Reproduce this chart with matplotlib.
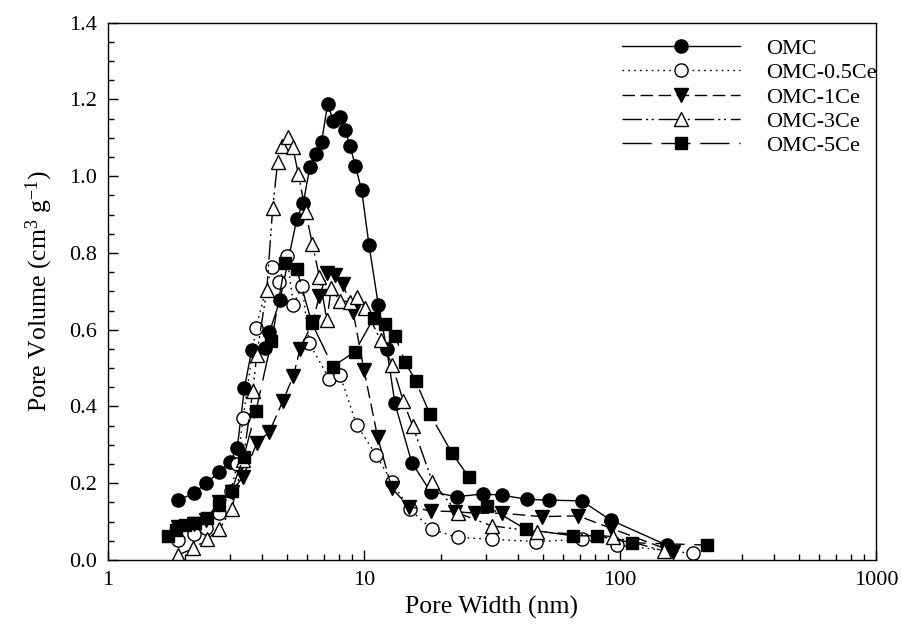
import matplotlib
matplotlib.use('Agg')
import matplotlib.pyplot as plt
from matplotlib.ticker import FixedLocator, LogLocator, NullFormatter, MultipleLocator, FormatStrFormatter, FixedFormatter

plt.rcParams['font.family'] = ['Liberation Serif']
plt.rcParams['mathtext.fontset'] = 'custom'
plt.rcParams['mathtext.rm'] = 'Liberation Serif'
plt.rcParams['mathtext.it'] = 'Liberation Serif:italic'
plt.rcParams['lines.scale_dashes'] = False

# ---------------- data ----------------
omc_x = [1.88, 2.17, 2.41, 2.71, 3.00, 3.20, 3.41, 3.64, 4.12, 4.27, 4.70, 5.46, 5.79, 6.15, 6.48,
         6.83, 7.21, 7.59, 8.06, 8.43, 8.82, 9.25, 9.79, 10.46, 11.37, 12.27, 13.21, 15.36, 18.2,
         23.0, 29.1, 34.5, 43.5, 52.8, 70.8, 92.0, 152]
omc_y = [0.156, 0.174, 0.200, 0.228, 0.256, 0.293, 0.447, 0.547, 0.553, 0.593, 0.678, 0.888, 0.930,
         1.025, 1.057, 1.090, 1.188, 1.144, 1.153, 1.121, 1.079, 1.027, 0.964, 0.821, 0.665, 0.550,
         0.408, 0.254, 0.178, 0.165, 0.172, 0.169, 0.158, 0.156, 0.154, 0.104, 0.039]

c05_x = [1.88, 2.17, 2.41, 2.71, 3.02, 3.20, 3.37, 3.78, 4.36, 4.67, 4.99, 5.30, 5.73, 6.11, 7.32,
         8.06, 9.36, 11.14, 12.83, 15.1, 18.4, 23.2, 31.5, 46.9, 70.8, 97.1, 192]
c05_y = [0.052, 0.069, 0.083, 0.122, 0.180, 0.250, 0.369, 0.604, 0.763, 0.724, 0.792, 0.665, 0.715,
         0.565, 0.472, 0.482, 0.352, 0.274, 0.204, 0.132, 0.080, 0.059, 0.054, 0.048, 0.054, 0.039,
         0.017]

c1_x = [1.88, 2.17, 2.41, 2.72, 3.04, 3.37, 3.81, 4.27, 4.81, 5.30, 5.62, 6.31, 6.70, 7.19, 7.70,
        8.27, 9.07, 10.0, 11.3, 12.83, 15.0, 18.2, 22.7, 27.1, 34.5, 49.4, 68.7, 92.0, 161]
c1_y = [0.085, 0.095, 0.105, 0.152, 0.178, 0.217, 0.304, 0.334, 0.413, 0.480, 0.549, 0.621, 0.689,
        0.747, 0.743, 0.719, 0.646, 0.495, 0.321, 0.187, 0.139, 0.128, 0.126, 0.122, 0.122, 0.113,
        0.115, 0.083, 0.022]

c3_x = [1.88, 2.15, 2.44, 2.72, 3.04, 3.37, 3.68, 3.81, 4.17, 4.40, 4.60, 4.77, 5.03, 5.27, 5.54,
        5.92, 6.28, 6.70, 7.16, 7.45, 8.06, 8.82, 9.36, 10.1, 11.6, 12.9, 14.25, 15.5, 18.5, 23.2,
        31.5, 47.3, 94.2, 148.6]
c3_y = [0.013, 0.030, 0.054, 0.080, 0.132, 0.260, 0.441, 0.534, 0.704, 0.917, 1.038, 1.080, 1.103,
        1.075, 1.006, 0.906, 0.824, 0.737, 0.625, 0.708, 0.675, 0.673, 0.685, 0.656, 0.573, 0.508,
        0.413, 0.349, 0.204, 0.123, 0.089, 0.074, 0.061, 0.023]

c5_x = [1.72, 1.85, 2.00, 2.19, 2.44, 2.72, 3.04, 3.39, 3.78, 4.35, 4.92, 5.46, 6.25, 7.55, 9.22,
        10.9, 12.1, 13.2, 14.5, 15.9, 18.1, 22.0, 25.6, 30.1, 42.9, 65.7, 81.1, 111, 218]
c5_y = [0.063, 0.078, 0.090, 0.097, 0.109, 0.143, 0.181, 0.269, 0.387, 0.570, 0.773, 0.758, 0.618,
        0.504, 0.543, 0.630, 0.614, 0.584, 0.515, 0.467, 0.380, 0.280, 0.217, 0.141, 0.080, 0.063,
        0.063, 0.045, 0.039]

labels = ['OMC', 'OMC-0.5Ce', 'OMC-1Ce', 'OMC-3Ce', 'OMC-5Ce']
x_ticks = [1, 10, 100, 1000]
x_tick_labels = ['1', '10', '100', '1000']

# ---------------- figure ----------------
fig = plt.figure(figsize=(9.03, 6.30), dpi=100)
ax = fig.add_axes([108 / 903, 1 - 560 / 630, (876 - 108) / 903, (560 - 22.7) / 630])

ms = 9.5
lw = 1.0
ax.plot(omc_x, omc_y, color='black', lw=lw, linestyle='-', marker='o', ms=ms,
        mfc='black', mec='black', label=labels[0])
ax.plot(c05_x, c05_y, color='black', lw=lw, linestyle=(0, (1.2, 3.0)), marker='o', ms=ms,
        mfc='white', mec='black', mew=1.0, label=labels[1])
ax.plot(c1_x, c1_y, color='black', lw=lw, linestyle=(0, (9.0, 4.0)), marker='v', ms=ms,
        mfc='black', mec='black', label=labels[2])
ax.plot(c3_x, c3_y, color='black', lw=lw, linestyle=(0, (14, 3, 1.5, 2.5, 1.5, 3.5)), marker='^',
        ms=ms, mfc='white', mec='black', mew=1.0, label=labels[3])
ax.plot(c5_x, c5_y, color='black', lw=lw, linestyle=(0, (21, 7)), marker='s', ms=ms - 1,
        mfc='black', mec='black', label=labels[4])

ax.set_xscale('log')
ax.set_xlim(1, 1000)
ax.set_ylim(0, 1.4)
ax.xaxis.set_major_locator(FixedLocator(x_ticks))
ax.xaxis.set_major_formatter(FixedFormatter(x_tick_labels))
ax.xaxis.set_minor_locator(LogLocator(base=10, subs=range(2, 10)))
ax.xaxis.set_minor_formatter(NullFormatter())
ax.yaxis.set_major_locator(MultipleLocator(0.2))
ax.yaxis.set_minor_locator(MultipleLocator(0.05))
ax.yaxis.set_major_formatter(FormatStrFormatter('%.1f'))

ax.tick_params(which='both', direction='in', top=False, right=False, labelsize=16, width=1.0)
ax.tick_params(which='major', length=7, pad=8)
ax.tick_params(which='minor', length=4)
for s in ax.spines.values():
    s.set_linewidth(1.0)

ax.set_xlabel('Pore Width (nm)', fontsize=18.5, labelpad=4)
ax.set_ylabel('Pore Volume (cm$^{3}$ g$^{-1}$)', fontsize=18.5, labelpad=10)

leg = ax.legend(loc='upper left', bbox_to_anchor=(0.669, 0.971), frameon=False, fontsize=16,
                handlelength=5.3, handletextpad=1.2, labelspacing=0.17, borderpad=0,
                borderaxespad=0, numpoints=1)

fig.savefig('out.png', dpi=100)
